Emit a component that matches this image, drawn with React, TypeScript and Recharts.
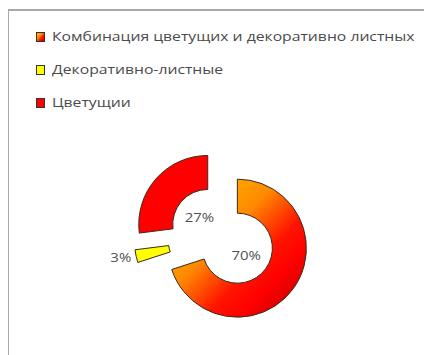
import React from "react";
import { PieChart, Pie, Sector } from "recharts";

// chart data
const categories = ["Комбинация цветущих и декоративно листных", "Декоративно-листные", "Цветущии"];
const shares = [70, 3, 27];
const colors = ["url(#comboGrad)", "#FFFF00", "#FF0000"];

const data = categories.map((name, i) => ({ name, value: shares[i] }));

const EXPLODE = 19;
const RAD = Math.PI / 180;
const TEXT_SCALE = 1.31;

// draws each slice pulled out along its middle angle, plus its percent label
const renderSlice = (props: any) => {
    const { cx, cy, innerRadius, outerRadius, startAngle, endAngle, midAngle, index, percent } = props;
    const dx = EXPLODE * Math.cos(-midAngle * RAD);
    const dy = EXPLODE * Math.sin(-midAngle * RAD);
    const ex = cx + dx;
    const ey = cy + dy;
    const small = percent < 0.1;
    const r = small ? outerRadius + 5 : 11;
    const lx = ex + r * Math.cos(-midAngle * RAD);
    const ly = ey + r * Math.sin(-midAngle * RAD);
    return (
        <g key={"slice-" + index}>
            <Sector
                cx={ex}
                cy={ey}
                innerRadius={innerRadius}
                outerRadius={outerRadius}
                startAngle={startAngle}
                endAngle={endAngle}
                fill={colors[index]}
                stroke="#3a2a1a"
                strokeWidth={1}
            />
            <text
                x={lx}
                y={ly}
                textAnchor={small ? "end" : "middle"}
                dominantBaseline="central"
                fill="#505050"
                fontSize={13}
                fontFamily="'Open Sans', sans-serif"
                transform={`translate(${lx} ${ly}) scale(1.15 1) translate(${-lx} ${-ly})`}
            >
                {Math.round(percent * 100) + "%"}
            </text>
        </g>
    );
};

function ChartLegend() {
    return (
        <div
            style={{
                position: "absolute",
                left: 28,
                top: 12,
                fontFamily: "'Open Sans', sans-serif",
                fontSize: 12,
                color: "#4a4a4a",
            }}
        >
            {categories.map((name, i) => (
                <div key={name} style={{ height: 33, display: "flex", alignItems: "center", whiteSpace: "nowrap" }}>
                    <svg width={9} height={10} style={{ marginRight: 7, flex: "none" }}>
                        <rect x={0.5} y={0.5} width={8} height={9} fill={colors[i]} stroke="#333" strokeWidth={1} />
                    </svg>
                    <span style={{ display: "inline-block", transform: `scaleX(${TEXT_SCALE})`, transformOrigin: "left center" }}>
                        {name}
                    </span>
                </div>
            ))}
        </div>
    );
}

export default function App() {
    return (
        <div style={{ position: "relative", width: 424, height: 347, overflow: "hidden" }}>
            {/* chart area frame, only top and left edges are visible */}
            <div
                style={{
                    position: "absolute",
                    left: -1,
                    top: 1,
                    width: 440,
                    height: 360,
                    borderTop: "2px solid #a8a8a8",
                    borderLeft: "2px solid #a8a8a8",
                }}
            />
            <div style={{ position: "absolute", left: 0, top: 0 }}>
                <PieChart width={424} height={347} margin={{ top: 0, right: 0, bottom: 0, left: 0 }}>
                    <defs>
                        <linearGradient id="comboGrad" x1="0" y1="0" x2="1" y2="1">
                            <stop offset="0%" stopColor="#FFB800" />
                            <stop offset="25%" stopColor="#FFA200" />
                            <stop offset="40%" stopColor="#FF8A00" />
                            <stop offset="62%" stopColor="#FF1500" />
                            <stop offset="75%" stopColor="#FF0000" />
                            <stop offset="100%" stopColor="#B00000" />
                        </linearGradient>
                    </defs>
                    <Pie
                        data={data}
                        dataKey="value"
                        nameKey="name"
                        cx={214}
                        cy={229}
                        innerRadius={35}
                        outerRadius={69}
                        startAngle={90}
                        endAngle={-270}
                        fill="transparent"
                        stroke="none"
                        label={renderSlice}
                        labelLine={false}
                        isAnimationActive={false}
                    />
                </PieChart>
            </div>
            <ChartLegend />
        </div>
    );
}
